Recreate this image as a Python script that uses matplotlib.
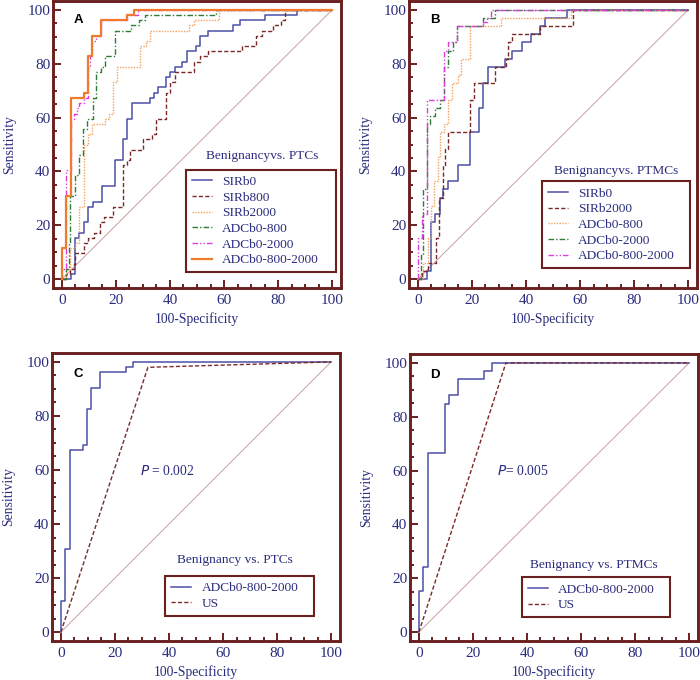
import matplotlib
matplotlib.use('Agg')
import matplotlib.pyplot as plt

plt.rcParams['font.family'] = ['Liberation Serif', 'DejaVu Serif']

NAVY = '#2a2c7e'
FRAME = '#6b1f1f'
DIAG = '#c9a0a0'

# ---------------- Panel A: Benignancy vs. PTCs ----------------
a_sirb0_x = [0, 3.2, 4.8, 6.5, 8.1, 9.6, 11.5, 14.9, 19.5, 22.6, 24.1, 26, 32.5, 34, 35.4, 38.5, 40, 41.7, 44.5, 46.3, 49.5, 51.2, 54, 63.5, 66, 75, 87, 100]
a_sirb0_y = [0, 1.9, 15.4, 17.3, 21.2, 26.9, 28.8, 34.6, 44.2, 51.9, 59.6, 65.4, 67.3, 69.2, 71.2, 75.0, 76.9, 78.8, 80.8, 84.6, 86.5, 90.4, 92.3, 94.2, 96.2, 98.1, 100, 100]

a_sirb800_x = [0, 1.5, 3, 4.5, 5, 8, 9.5, 12, 14, 15.5, 19, 22.6, 24.1, 25.3, 30, 33.3, 35, 38.5, 40.1, 41.7, 49, 51, 54, 66.5, 72, 74, 78, 81, 82.5, 100]
a_sirb800_y = [0, 1.9, 3.8, 5.8, 9.6, 13.5, 15.4, 17.3, 21.2, 23.1, 26.9, 42.3, 44.2, 48.1, 51.9, 53.8, 59.6, 69.2, 73.1, 76.9, 80.8, 82.7, 84.6, 86.5, 90.4, 92.3, 94.2, 96.2, 100, 100]

a_sirb2000_x = [0, 1.5, 3, 5, 6.5, 8, 9.6, 11.2, 16, 17.5, 18.9, 20.5, 28.8, 31, 32.6, 47, 49, 58, 100]
a_sirb2000_y = [0, 3.8, 11.5, 13.5, 26.9, 50.0, 53.8, 57.7, 59.6, 61.5, 73.1, 78.8, 86.5, 88.5, 92.3, 94.2, 96.2, 100, 100]

a_adc800_x = [0, 1.5, 2.5, 3.1, 4.7, 6.3, 7.8, 9.4, 11.5, 12.7, 14.5, 15.8, 19.5, 25.7, 28.5, 30.6, 57, 100]
a_adc800_y = [0, 3.8, 13.5, 30.8, 38.5, 46.2, 55.8, 59.6, 67.3, 76.9, 78.8, 82.7, 92.3, 94.2, 96.2, 98.1, 100, 100]

a_adc2000_x = [0, 0, 1.6, 3.2, 4.5, 5.5, 6.5, 8, 9.6, 10.5, 11.2, 12.5, 14.3, 24, 28, 100]
a_adc2000_y = [0, 3.8, 40.4, 59.6, 61.5, 63.5, 65.4, 67.3, 78.8, 82.7, 88.5, 90.4, 96.2, 98.1, 100, 100]

a_adcall_x = [0, 0, 1.6, 3.2, 8, 9.6, 11.2, 14.3, 24, 26.5, 100]
a_adcall_y = [0, 11.5, 30.8, 67.3, 69.2, 82.7, 90.4, 96.2, 98.1, 100, 100]

# ---------------- Panel B: Benignancy vs. PTMCs ----------------
b_sirb0_x = [0, 3.2, 4.8, 6.4, 8.1, 9.1, 11.3, 14.7, 19.4, 22.7, 24.2, 26, 32.4, 34.8, 38.7, 42, 45.3, 46.9, 55.2, 100]
b_sirb0_y = [0, 3.0, 21.2, 24.2, 30.3, 33.3, 36.4, 42.4, 54.5, 63.6, 72.7, 78.8, 81.8, 84.8, 87.9, 90.9, 93.9, 97.0, 100, 100]

b_sirb2000_x = [0, 1.5, 3.6, 6.7, 7.9, 9.1, 10.1, 11.3, 19.4, 20.9, 28.5, 32.5, 33.5, 35, 45.3, 57.5, 100]
b_sirb2000_y = [0, 3.0, 6.1, 15.2, 30.3, 42.4, 48.5, 54.5, 66.7, 72.7, 78.8, 81.8, 87.9, 90.9, 93.9, 100, 100]

b_adc800_x = [0, 1.7, 3.6, 4.8, 6, 7.6, 8.1, 9.7, 11.3, 12.8, 14.7, 15.9, 19.3, 30.9, 56.8, 100]
b_adc800_y = [0, 6.1, 15.2, 27.3, 36.4, 45.5, 54.5, 57.6, 66.7, 72.7, 75.8, 81.8, 93.9, 97.0, 100, 100]

b_adc2000_x = [0, 1, 1.8, 3.2, 4.5, 6.2, 8, 9.7, 11.3, 13, 14.5, 24, 28.5, 100]
b_adc2000_y = [0, 9.1, 33.3, 57.6, 60.6, 63.6, 66.7, 78.8, 84.8, 87.9, 93.9, 97.0, 100, 100]

b_adcall_x = [0, 0, 1.5, 3.2, 9.7, 11.3, 14.5, 24, 25.5, 27, 100]
b_adcall_y = [0, 15.2, 24.2, 66.7, 84.8, 87.9, 93.9, 95.5, 97.0, 100, 100]

# ---------------- Panel C / D: ADC vs US ----------------
c_us_x = [0, 32.2, 100]
c_us_y = [0, 98.0, 100]
d_adcall_x = [0, 0, 1.6, 3.2, 9.6, 11.2, 14.3, 24, 27.2, 100]
d_adcall_y = [0, 15.2, 24.2, 66.7, 84.8, 87.9, 93.9, 97.0, 100, 100]
d_us_x = [0, 32.2, 100]
d_us_y = [0, 100, 100]

labels_a = ['SIRb0', 'SIRb800', 'SIRb2000', 'ADCb0-800', 'ADCb0-2000', 'ADCb0-800-2000']
labels_b = ['SIRb0', 'SIRb2000', 'ADCb0-800', 'ADCb0-2000', 'ADCb0-800-2000']
labels_cd = ['ADCb0-800-2000', 'US']

# styles
S_BLUE = dict(color='#4b4fa6', lw=1.1, ls='-')
S_RED = dict(color='#7a2828', lw=1.0, ls=(0, (3, 1.6)))
S_ODOT = dict(color='#f3a25c', lw=1.0, ls=(0, (1, 1)))
S_GREEN = dict(color='#2e7d34', lw=1.0, ls=(0, (4, 1.5, 1, 1.5)))
S_MAG = dict(color='#e03ce0', lw=1.0, ls=(0, (4, 1.5, 1, 1.5, 1, 1.5)))
S_ORANGE = dict(color='#f07b2e', lw=1.6, ls='-')
S_US = dict(color='#7a2828', lw=1.0, ls=(0, (3, 1.6)))

W, H = 700, 680
fig = plt.figure(figsize=(W / 100, H / 100), dpi=100)


def add_axes(l, t, r, b):
    return fig.add_axes([l / W, 1 - b / H, (r - l) / W, (b - t) / H])


def style(ax, letter, lx, ly):
    ax.set_xlim(-3.3, 103.3)
    ax.set_ylim(-3.3, 103.3)
    for s in ax.spines.values():
        s.set_color(FRAME)
        s.set_linewidth(2.1)
    ax.set_xticks(range(0, 101, 20))
    ax.set_yticks(range(0, 101, 20))
    ax.set_xticks(range(0, 101, 5), minor=True)
    ax.set_yticks(range(0, 101, 5), minor=True)
    ax.tick_params(which='both', direction='in', color=FRAME, width=1.4,
                   labelcolor=NAVY, labelsize=11)
    ax.tick_params(which='major', length=6)
    ax.tick_params(which='minor', length=3)
    ax.tick_params(axis='y', pad=2)
    ax.tick_params(axis='x', pad=4)
    ax.set_xlabel('100-Specificity', color=NAVY, fontsize=9.8, labelpad=4)
    ax.set_ylabel('Sensitivity', color=NAVY, fontsize=9.8, labelpad=8)
    ax.plot([0, 100], [0, 100], color=DIAG, lw=0.7, zorder=1)
    ax.text(lx, ly, letter, fontsize=9.5, fontweight='bold', color='black',
            family=['Liberation Sans', 'DejaVu Sans'], ha='center', va='center')


def legend(ax, handles, labels, x0, y0, w, title, tx, ty):
    leg = ax.legend(handles, labels, loc='lower left',
                    bbox_to_anchor=(x0, y0, w, 10), bbox_transform=ax.transData,
                    mode='expand', frameon=True, fancybox=False, edgecolor=FRAME,
                    framealpha=1, borderaxespad=0, fontsize=9.6, labelcolor=NAVY,
                    handlelength=1.5, handletextpad=0.8, labelspacing=0.25,
                    borderpad=0.45)
    leg.get_frame().set_linewidth(1.5)
    ax.text(tx, ty, title, ha='center', va='center', color=NAVY, fontsize=9.6)


def steps(ax, x, y, st):
    return ax.plot(x, y, drawstyle='steps-post', zorder=3, **st)[0]


# Panel A
axA = add_axes(53, 1, 341, 288)
style(axA, 'A', 6.2, 96.3)
hA = [steps(axA, a_sirb0_x, a_sirb0_y, S_BLUE),
      steps(axA, a_sirb800_x, a_sirb800_y, S_RED),
      steps(axA, a_sirb2000_x, a_sirb2000_y, S_ODOT),
      steps(axA, a_adc800_x, a_adc800_y, S_GREEN),
      steps(axA, a_adc2000_x, a_adc2000_y, S_MAG),
      steps(axA, a_adcall_x, a_adcall_y, S_ORANGE)]
legend(axA, hA, labels_a, 45.8, 2.5, 55.6, 'Benignancyvs. PTCs', 74.0, 45.9)

# Panel B
axB = add_axes(409, 1, 697, 288)
style(axB, 'B', 6.3, 96.3)
hB = [steps(axB, b_sirb0_x, b_sirb0_y, S_BLUE),
      steps(axB, b_sirb2000_x, b_sirb2000_y, S_RED),
      steps(axB, b_adc800_x, b_adc800_y, S_ODOT),
      steps(axB, b_adc2000_x, b_adc2000_y, S_GREEN),
      steps(axB, b_adcall_x, b_adcall_y, S_MAG)]
legend(axB, hB, labels_b, 45.8, 4.0, 54.8, 'Benignancyvs. PTMCs', 73.5, 40.3)

# Panel C
axC = add_axes(52, 353, 340, 641)
style(axC, 'C', 6.5, 95.5)
hC = [steps(axC, a_adcall_x, a_adcall_y, S_BLUE),
      axC.plot(c_us_x, c_us_y, zorder=3, **S_US)[0]]
legend(axC, hC, labels_cd, 38.6, 6.0, 54.9, 'Benignancy vs. PTCs', 64.5, 26.8)
axC.text(29.3, 59.8, r'$\it{P}$ = 0.002', color=NAVY, fontsize=9.8, ha='left', va='center')

# Panel D
axD = add_axes(410, 354, 698, 641)
style(axD, 'D', 5.8, 95.5)
hD = [steps(axD, d_adcall_x, d_adcall_y, S_BLUE),
      axD.plot(d_us_x, d_us_y, zorder=3, **S_US)[0]]
legend(axD, hD, labels_cd, 38.0, 5.5, 55.0, 'Benignancy vs. PTMCs', 64.9, 24.9)
axD.text(29.0, 59.8, r'$\it{P}$= 0.005', color=NAVY, fontsize=9.8, ha='left', va='center')

fig.savefig('out.png', dpi=100)
